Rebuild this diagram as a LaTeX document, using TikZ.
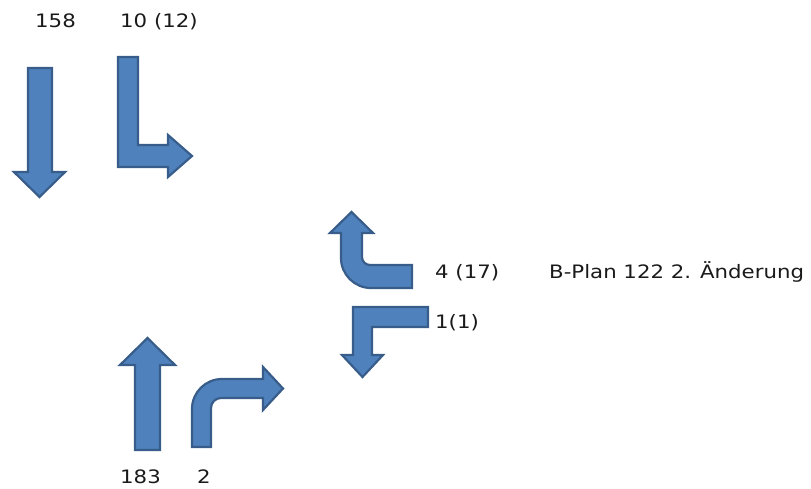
\documentclass[tikz,border=0pt]{standalone}
\usepackage{fontspec}
\newfontfamily\zahlfont[FakeStretch=1.15]{DejaVu Sans}
\usepackage{xcolor}
\definecolor{pfeilblau}{HTML}{4F81BD}
\definecolor{pfeilrand}{HTML}{385D8A}
\definecolor{zahltext}{HTML}{1A1A1A}
\usepackage{tikz}
\usetikzlibrary{positioning}

\begin{document}
\begin{tikzpicture}[
    x=1pt, y=-1pt,
    pfeil/.style={fill=pfeilblau, draw=pfeilrand, line width=2.2pt, line join=miter},
    zahl/.style={anchor=base west, inner sep=0pt, text=zahltext, font=\zahlfont\fontsize{18.5}{21}\selectfont},
]
    \useasboundingbox (0,0) rectangle (811,489);

    % Zufahrt Nord
    \draw[pfeil] (28,68) -- (52,68) -- (52,172) -- (65,172) -- (39.5,197) -- (14,172) -- (28,172) -- cycle;
    \draw[pfeil] (118,57) -- (138,57) -- (138,145) -- (168,145) -- (168,135) -- (192,156)
        -- (168,177) -- (168,167) -- (118,167) -- cycle;

    % Zufahrt Ost
    \draw[pfeil] (412,265) -- (370,265) .. controls (365.6,265) and (362,261.4) .. (362,257)
        -- (362,233) -- (373,233) -- (351.5,212) -- (330,233) -- (341,233) -- (341,258)
        .. controls (341,274.5) and (354.5,288) .. (371,288) -- (412,288) -- cycle;
    \draw[pfeil] (428,307) -- (353,307) -- (353,355) -- (342,355) -- (362.5,377) -- (383,355)
        -- (372,355) -- (372,327) -- (428,327) -- cycle;

    % Zufahrt Sued
    \draw[pfeil] (135,450) -- (135,365) -- (120,365) -- (147.5,338) -- (175,365) -- (160,365) -- (160,450) -- cycle;
    \draw[pfeil] (192,447) -- (192,409) .. controls (192,392.4) and (205.4,379) .. (222,379)
        -- (263,379) -- (263,367) -- (283,388.5) -- (263,410) -- (263,398) -- (221,398)
        .. controls (215.5,398) and (211,402.5) .. (211,408) -- (211,447) -- cycle;

    % Belastungen
    \node[zahl] (nordgerade) at (35,28) {158};
    \node[zahl] (nordlinks) at (120,28) {10 (12)};
    \node[zahl] (ostrechts) at (435,278) {4 (17)};
    \node[zahl] (ostlinks) at (435,328) {1(1)};
    \node[zahl] (suedgerade) at (120,483) {183};
    \node[zahl] (suedrechts) at (197,483) {2};
    \node[zahl] (bplan) at (549,278) {B-Plan 122 2. Änderung};
\end{tikzpicture}
\end{document}
